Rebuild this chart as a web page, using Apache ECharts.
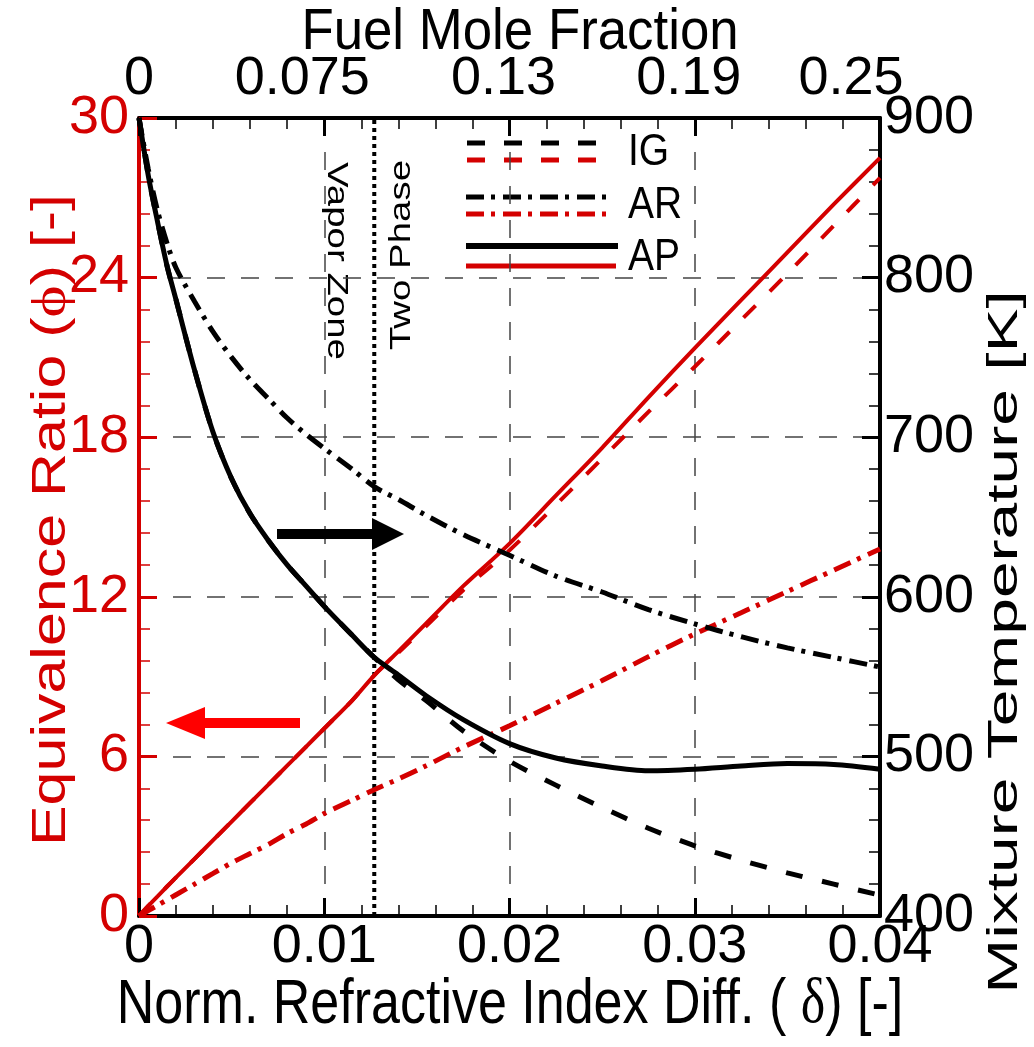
<!DOCTYPE html>
<html>
<head>
<meta charset="utf-8">
<script src="https://cdn.jsdelivr.net/npm/echarts@6.0.0/dist/echarts.min.js"></script>
<style>
  html, body { margin: 0; padding: 0; background: #fff; }
  #chart { width: 1034px; height: 1047px; }
</style>
</head>
<body>
<div id="chart"></div>
<script>
// normalized refractive index difference (delta)
const delta = [0, 0.0005, 0.001, 0.0015, 0.002, 0.003, 0.004, 0.005, 0.006, 0.007, 0.008, 0.009,
  0.010, 0.0115, 0.0127, 0.014, 0.0155, 0.0175, 0.020, 0.0225, 0.025, 0.0275, 0.030, 0.0325,
  0.035, 0.0375, 0.040];

// equivalence ratio (left axis)
const phiAP = [0, 0.38, 0.74, 1.1, 1.45, 2.15, 2.85, 3.55, 4.25, 4.95, 5.65, 6.35,
  7.05, 8.1, 9.05, 9.95, 11.0, 12.4, 14.0, 15.8, 17.6, 19.5, 21.35, 23.15, 24.95, 26.75, 28.5];
const phiIG = [0, 0.38, 0.74, 1.1, 1.45, 2.15, 2.85, 3.55, 4.25, 4.95, 5.65, 6.35,
  7.05, 8.1, 9.05, 9.9, 10.9, 12.25, 13.75, 15.45, 17.2, 18.95, 20.65, 22.4, 24.15, 25.95, 27.75];
const phiAR = [0, 0.2, 0.4, 0.6, 0.8, 1.2, 1.6, 2.0, 2.35, 2.7, 3.1, 3.45,
  3.85, 4.35, 4.75, 5.15, 5.65, 6.35, 7.15, 8.0, 8.85, 9.75, 10.6, 11.4, 12.2, 13.0, 13.8];

// mixture temperature [K] (right axis)
const tempAP = [900, 864, 835, 808, 786, 742, 703, 674, 652, 635, 620, 607,
  594, 576, 562, 551, 538, 523, 508, 499, 494, 491, 492, 494, 495.5, 495, 492];
const tempIG = [900, 864, 835, 808, 786, 742, 703, 674, 652, 635, 620, 607,
  594, 576, 562, 548, 535, 516, 497, 482, 468, 455, 444, 435, 427, 420, 413];
const tempAR = [900, 868, 842, 822, 806, 785, 766, 750, 736, 724, 712, 702,
  693, 680, 669, 661, 651, 639, 626, 613, 603, 592, 583, 575, 568, 562, 556];

const phaseBoundary = 0.0127;
const topTickLabels = ['0', '0.075', '0.13', '0.19', '0.25'];

const RED = '#d40000';
const NARROW = '"Liberation Sans Narrow", "Liberation Sans", sans-serif';
const SANS = '"Liberation Sans", Arial, sans-serif';

function pairs(xs, ys) {
  return xs.map((x, i) => [x, ys[i]]);
}

const gridDash = { show: true, lineStyle: { color: '#444', width: 1.5, type: [18, 16] } };

function xAxisBase(pos) {
  return {
    type: 'value', position: pos, min: 0, max: 0.04, interval: 0.01,
    axisLine: { show: true, onZero: false, lineStyle: { color: '#000', width: 4 } },
    axisTick: { show: true, inside: true, length: 18, lineStyle: { color: '#000', width: 3 } },
    minorTick: { show: true, splitNumber: 5, length: 11, lineStyle: { color: '#000', width: 1.5 } },
    axisLabel: { color: '#000', fontFamily: NARROW, fontSize: 54 }
  };
}

const bottomAxis = xAxisBase('bottom');
bottomAxis.axisLabel.margin = 4;
bottomAxis.axisLabel.formatter = v => (v === 0 ? '0' : v.toFixed(2));
bottomAxis.splitLine = gridDash;

// top labels sit a little left of their ticks in the original
const topAxis = xAxisBase('top');
topAxis.axisLabel.margin = 12;
topAxis.axisLabel.formatter = v => {
  const i = Math.round(v / 0.01);
  return '{t' + i + '|' + topTickLabels[i] + '}';
};
topAxis.axisLabel.rich = {
  t0: { fontFamily: NARROW, fontSize: 54, color: '#000' },
  t1: { fontFamily: NARROW, fontSize: 54, color: '#000', padding: [0, 44, 0, 0] },
  t2: { fontFamily: NARROW, fontSize: 54, color: '#000', padding: [0, 12, 0, 0] },
  t3: { fontFamily: NARROW, fontSize: 54, color: '#000', padding: [0, 12, 0, 0] },
  t4: { fontFamily: NARROW, fontSize: 54, color: '#000', padding: [0, 58, 0, 0] }
};
topAxis.splitLine = { show: false };

const option = {
  animation: false,
  backgroundColor: '#fff',
  grid: { left: 139, right: 154, top: 118, bottom: 131 },
  xAxis: [bottomAxis, topAxis],
  yAxis: [
    {
      type: 'value', position: 'left', min: 0, max: 30, interval: 6,
      axisLine: { show: true, onZero: false, lineStyle: { color: RED, width: 4 } },
      axisTick: { show: true, inside: true, length: 18, lineStyle: { color: RED, width: 3 } },
      minorTick: { show: true, splitNumber: 5, length: 11, lineStyle: { color: RED, width: 1.5 } },
      axisLabel: { color: RED, fontFamily: NARROW, fontSize: 54, margin: 10 },
      splitLine: gridDash
    },
    {
      type: 'value', position: 'right', min: 400, max: 900, interval: 100,
      axisLine: { show: true, onZero: false, lineStyle: { color: '#000', width: 4 } },
      axisTick: { show: true, inside: true, length: 18, lineStyle: { color: '#000', width: 3 } },
      minorTick: { show: true, splitNumber: 5, length: 11, lineStyle: { color: '#000', width: 1.5 } },
      axisLabel: { color: '#000', fontFamily: NARROW, fontSize: 54, margin: 4 },
      splitLine: { show: false }
    }
  ],
  series: [
    {
      name: 'phase boundary', type: 'line', yAxisIndex: 0, symbol: 'none',
      data: [[phaseBoundary, 0], [phaseBoundary, 30]],
      lineStyle: { color: '#000', width: 4, type: [4, 4] }, z: 1
    },
    {
      name: 'AP phi', type: 'line', yAxisIndex: 0, symbol: 'none', smooth: 0.3,
      data: pairs(delta, phiAP), lineStyle: { color: RED, width: 4 }
    },
    {
      name: 'IG phi', type: 'line', yAxisIndex: 0, symbol: 'none', smooth: 0.3,
      data: pairs(delta, phiIG), lineStyle: { color: RED, width: 4, type: [17, 20] }
    },
    {
      name: 'AR phi', type: 'line', yAxisIndex: 0, symbol: 'none', smooth: 0.3,
      data: pairs(delta, phiAR), lineStyle: { color: RED, width: 5, type: [18, 7, 4, 8] }
    },
    {
      name: 'AP T', type: 'line', yAxisIndex: 1, symbol: 'none', smooth: 0.3,
      data: pairs(delta, tempAP), lineStyle: { color: '#000', width: 5 }
    },
    {
      name: 'IG T', type: 'line', yAxisIndex: 1, symbol: 'none', smooth: 0.3,
      data: pairs(delta, tempIG), lineStyle: { color: '#000', width: 5, type: [17, 20] }
    },
    {
      name: 'AR T', type: 'line', yAxisIndex: 1, symbol: 'none', smooth: 0.3,
      data: pairs(delta, tempAR), lineStyle: { color: '#000', width: 5, type: [18, 7, 4, 8] }
    }
  ],
  graphic: [
    // axis titles
    {
      type: 'text', x: 510, y: 1006, scaleX: 1.04, scaleY: 1.25,
      style: {
        text: '{a|Norm. Refractive Index Diff. ( }{b|δ}{a|) [-]}',
        align: 'center', verticalAlign: 'middle',
        rich: {
          a: { fontFamily: SANS, fontSize: 50, fill: '#000' },
          b: { fontFamily: '"Liberation Serif", serif', fontSize: 50, fill: '#000' }
        }
      }
    },
    {
      type: 'text', x: 520, y: 33, scaleX: 1.1, scaleY: 1.2,
      style: { text: 'Fuel Mole Fraction', font: '48px ' + SANS, fill: '#000', align: 'center', verticalAlign: 'middle' }
    },
    {
      type: 'text', x: 52, y: 520, rotation: Math.PI / 2, scaleX: 1.27, scaleY: 1.0,
      style: {
        text: '{a|Equivalence Ratio (}{b|ϕ}{a|) [-]}',
        align: 'center', verticalAlign: 'middle',
        rich: {
          a: { fontFamily: SANS, fontSize: 48, fill: RED },
          b: { fontFamily: '"Liberation Serif", serif', fontSize: 48, fill: RED }
        }
      }
    },
    {
      type: 'text', x: 1005, y: 642, rotation: Math.PI / 2, scaleX: 1.57, scaleY: 1.0,
      style: { text: 'Mixture Temperature [K]', font: '42px ' + SANS, fill: '#000', align: 'center', verticalAlign: 'middle' }
    },
    // zone labels
    {
      type: 'text', x: 336, y: 261, rotation: -Math.PI / 2, scaleX: 1.28, scaleY: 1.0,
      style: { text: 'Vapor Zone', font: '30px ' + SANS, fill: '#000', align: 'center', verticalAlign: 'middle' }
    },
    {
      type: 'text', x: 402, y: 255, rotation: Math.PI / 2, scaleX: 1.28, scaleY: 1.0,
      style: { text: 'Two Phase', font: '30px ' + SANS, fill: '#000', align: 'center', verticalAlign: 'middle' }
    },
    // arrows
    {
      type: 'polygon', z: 50,
      shape: { points: [[277, 529], [372, 529], [372, 518], [404, 534], [372, 550], [372, 539], [277, 539]] },
      style: { fill: '#000' }
    },
    {
      type: 'polygon', z: 50,
      shape: { points: [[300, 718], [205, 718], [205, 707], [166, 723], [205, 739], [205, 728], [300, 728]] },
      style: { fill: '#ff0000' }
    },
    // legend
    { type: 'line', shape: { x1: 467, y1: 143, x2: 598, y2: 143 }, style: { stroke: '#000', lineWidth: 5, lineDash: [18, 19] } },
    { type: 'line', shape: { x1: 467, y1: 160, x2: 598, y2: 160 }, style: { stroke: RED, lineWidth: 5, lineDash: [18, 19] } },
    { type: 'line', shape: { x1: 466, y1: 197, x2: 609, y2: 197 }, style: { stroke: '#000', lineWidth: 5, lineDash: [18, 7, 4, 8] } },
    { type: 'line', shape: { x1: 466, y1: 214, x2: 609, y2: 214 }, style: { stroke: RED, lineWidth: 5, lineDash: [18, 7, 4, 8] } },
    { type: 'line', shape: { x1: 466, y1: 246, x2: 618, y2: 246 }, style: { stroke: '#000', lineWidth: 6 } },
    { type: 'line', shape: { x1: 466, y1: 266, x2: 616, y2: 266 }, style: { stroke: RED, lineWidth: 5 } },
    { type: 'text', x: 628, y: 153, scaleY: 1.15, style: { text: 'IG', font: '39px ' + SANS, fill: '#000', verticalAlign: 'middle' } },
    { type: 'text', x: 628, y: 206, scaleY: 1.15, style: { text: 'AR', font: '39px ' + SANS, fill: '#000', verticalAlign: 'middle' } },
    { type: 'text', x: 628, y: 258, scaleY: 1.15, style: { text: 'AP', font: '39px ' + SANS, fill: '#000', verticalAlign: 'middle' } }
  ]
};

const chart = echarts.init(document.getElementById('chart'));
chart.setOption(option);
</script>
</body>
</html>
